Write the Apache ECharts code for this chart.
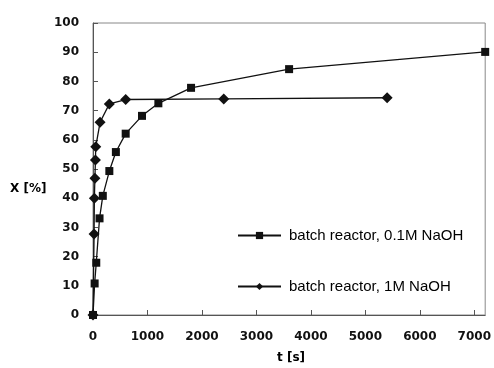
<!DOCTYPE html>
<html>
<head>
<meta charset="utf-8">
<script src="https://cdn.jsdelivr.net/npm/echarts@6/dist/echarts.min.js"></script>
<style>
html,body{margin:0;padding:0;background:#fff;}
#c{width:494px;height:368px;}
</style>
</head>
<body>
<div id="c"></div>
<script>
// Data
const seriesNames = ["batch reactor, 0.1M NaOH", "batch reactor, 1M NaOH"];
const tLow = [0, 30, 60, 120, 180, 300, 420, 600, 900, 1200, 1800, 3600, 7200];
const xLow = [0, 10.8, 17.9, 33.1, 40.8, 49.3, 55.8, 62.1, 68.2, 72.5, 77.8, 84.2, 90.1];
const tHigh = [0, 20, 25, 35, 45, 50, 130, 300, 600, 2400, 5400];
const xHigh = [0, 27.7, 40.0, 46.8, 53.1, 57.6, 66.0, 72.3, 73.8, 74.0, 74.4];
const xTicks = [0, 1000, 2000, 3000, 4000, 5000, 6000, 7000];
const yTicks = [0, 10, 20, 30, 40, 50, 60, 70, 80, 90, 100];

const pairs = (xs, ys) => xs.map((x, i) => [x, ys[i]]);

const chart = echarts.init(document.getElementById('c'), null, {renderer: 'canvas'});
const tickFont = {fontFamily: 'DejaVu Sans', fontSize: 12, fontWeight: 'bold', color: '#111'};
chart.setOption({
  animation: false,
  backgroundColor: '#fff',
  grid: {left: 93, right: 7, top: 23, bottom: 53, show: true, borderColor: '#888', borderWidth: 1},
  xAxis: {
    type: 'value', min: 0, max: 7200, interval: 1000,
    axisLine: {show: true, lineStyle: {color: '#555', width: 1}},
    axisTick: {show: true, inside: true, length: 5, lineStyle: {color: '#555'}},
    splitLine: {show: false},
    axisLabel: Object.assign({margin: 16, showMaxLabel: false,
      formatter: v => xTicks.includes(v) ? String(v) : ''}, tickFont)
  },
  yAxis: {
    type: 'value', min: 0, max: 100, interval: 10,
    axisLine: {show: true, lineStyle: {color: '#555', width: 1}},
    axisTick: {show: true, inside: true, length: 5, lineStyle: {color: '#555'}},
    splitLine: {show: false},
    axisLabel: Object.assign({margin: 14,
      formatter: v => yTicks.includes(v) ? String(v) : ''}, tickFont)
  },
  legend: {
    orient: 'vertical', left: 237, top: 228, itemGap: 36, padding: 0,
    itemWidth: 43, itemHeight: 9,
    textStyle: {fontFamily: 'Liberation Sans', fontSize: 15, color: '#000', padding: [0, 0, 0, 3]},
    data: [seriesNames[0], seriesNames[1]]
  },
  graphic: [
    {type: 'text', left: 10, top: 183, style: {text: 'X [%]', font: 'bold 12px "DejaVu Sans"', fill: '#000'}},
    {type: 'text', left: 277, top: 352, style: {text: 't [s]', font: 'bold 12px "DejaVu Sans"', fill: '#000'}}
  ],
  series: [
    {
      name: seriesNames[0], type: 'line', data: pairs(tLow, xLow),
      symbol: 'rect', symbolSize: 8, showSymbol: true,
      lineStyle: {color: '#111', width: 1.3},
      itemStyle: {color: '#111'}
    },
    {
      name: seriesNames[1], type: 'line', data: pairs(tHigh, xHigh),
      symbol: 'diamond', symbolSize: [11, 11], showSymbol: true,
      lineStyle: {color: '#111', width: 1.3},
      itemStyle: {color: '#111'}
    }
  ]
});
</script>
</body>
</html>
